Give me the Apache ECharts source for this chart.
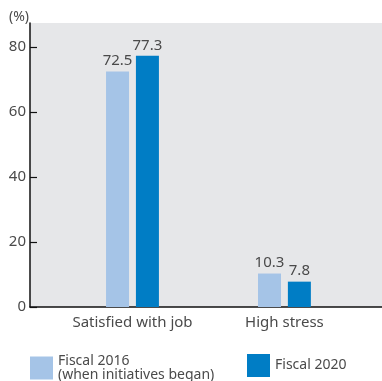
<!DOCTYPE html>
<html><head><meta charset="utf-8">
<script src="https://cdn.jsdelivr.net/npm/echarts@6/dist/echarts.min.js"></script>
<style>html,body{margin:0;padding:0;background:#fff}#c{width:382px;height:381px}</style>
</head><body><div id="c"></div>
<script>
var categories = ['Satisfied with job', 'High stress'];
var seriesNames = ['Fiscal 2016\n(when initiatives began)', 'Fiscal 2020'];
var fiscal2016 = [72.5, 10.3];
var fiscal2020 = [77.3, 7.8];
var yTicks = [0, 20, 40, 60, 80];

var FONT = '"Noto Sans", sans-serif';
var TXT = '#4a4a4a';
var chart = echarts.init(document.getElementById('c'));
chart.setOption({
  animation: false,
  textStyle: {fontFamily: FONT},
  grid: [
    {left: 30, right: 0, top: 23, bottom: 74, show: true, backgroundColor: '#e6e7e9', borderWidth: 0, containLabel: false},
    {left: 56.5, right: 21.6, top: 23, bottom: 74, containLabel: false}
  ],
  xAxis: [
    {type: 'category', gridIndex: 0, data: categories,
     axisLine: {show: true, lineStyle: {color: '#111', width: 1.5}},
     axisTick: {show: false}, axisLabel: {show: false}, splitLine: {show: false}},
    {type: 'category', gridIndex: 1, data: categories,
     axisLine: {show: false}, axisTick: {show: false},
     axisLabel: {color: TXT, fontSize: 15, margin: 8, interval: 0, fontFamily: FONT}}
  ],
  yAxis: [
    {type: 'value', gridIndex: 0, min: 0, max: 87.4,
     name: '(%)', nameLocation: 'end', nameGap: -1,
     nameTextStyle: {color: TXT, fontSize: 14, align: 'right', verticalAlign: 'bottom', padding: [0, 1, 0, 0], fontFamily: FONT},
     axisLine: {show: true, lineStyle: {color: '#111', width: 1.5}},
     axisTick: {show: true, inside: true, length: 7, customValues: yTicks, lineStyle: {color: '#111', width: 1.2}},
     axisLabel: {color: TXT, fontSize: 15, margin: 4, customValues: yTicks, padding: [0, 0, 5, 0], fontFamily: FONT},
     splitLine: {show: false}},
    {type: 'value', gridIndex: 1, min: 0, max: 87.4, show: false, splitLine: {show: false}}
  ],
  legend: [
    {data: [seriesNames[0]], left: 30, top: 354, padding: 0, itemWidth: 23, itemHeight: 23, icon: 'rect', itemGap: 4,
     textStyle: {color: TXT, fontSize: 14, lineHeight: 14, fontFamily: FONT}},
    {data: [seriesNames[1]], left: 247, top: 354, padding: 0, itemWidth: 23, itemHeight: 23, icon: 'rect',
     textStyle: {color: TXT, fontSize: 14, lineHeight: 14, fontFamily: FONT}}
  ],
  series: [
    {name: seriesNames[0], type: 'bar', xAxisIndex: 1, yAxisIndex: 1, data: fiscal2016,
     barWidth: 23, barGap: '30%', itemStyle: {color: '#a5c4e7'},
     label: {show: true, position: 'top', distance: 3, color: TXT, fontSize: 15, fontFamily: FONT}},
    {name: seriesNames[1], type: 'bar', xAxisIndex: 1, yAxisIndex: 1, data: fiscal2020,
     barWidth: 23, barGap: '30%', itemStyle: {color: '#007dc5'},
     label: {show: true, position: 'top', distance: 3, color: TXT, fontSize: 15, fontFamily: FONT}}
  ]
});
</script></body></html>
